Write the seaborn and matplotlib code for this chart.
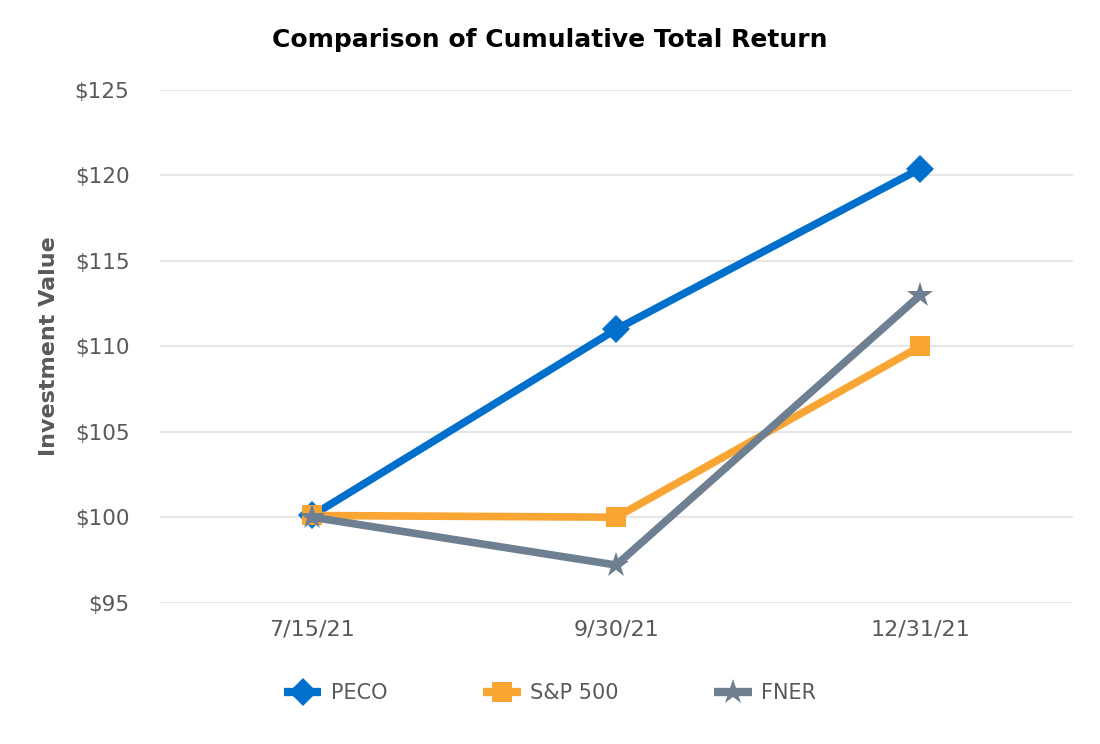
import pandas as pd
import matplotlib.pyplot as plt
import seaborn as sns

# chart data
dates = ['7/15/21', '9/30/21', '12/31/21']
peco = [100.1, 111.0, 120.4]
sp500 = [100.1, 100.0, 110.0]
fner = [100.0, 97.2, 113.0]

series = {'PECO': peco, 'S&P 500': sp500, 'FNER': fner}
colors = {'PECO': '#0070CC', 'S&P 500': '#F9A533', 'FNER': '#6E7F91'}
markers = {'PECO': 'D', 'S&P 500': 's', 'FNER': '*'}
sizes = {'PECO': 14, 'S&P 500': 14.5, 'FNER': 19}

rows = []
for name, vals in series.items():
    for d, v in zip(dates, vals):
        rows.append({'date': d, 'value': v, 'series': name})
df = pd.DataFrame(rows)

sns.set_theme(style="white")
plt.rcParams['font.family'] = ['DejaVu Sans']
text_color = '#595959'

fig, ax = plt.subplots(figsize=(11, 7.44), dpi=100)
fig.subplots_adjust(left=0.1455, right=0.975, top=0.879, bottom=0.19)

for name in series:
    sub = df[df['series'] == name]
    sns.lineplot(data=sub, x='date', y='value', ax=ax, color=colors[name],
                 linewidth=5.5, marker=markers[name], markersize=sizes[name],
                 markeredgewidth=0, label=name, sort=False)

ax.set_xlim(-0.5, 2.5)
ax.set_ylim(95, 125)
ax.set_yticks(range(95, 126, 5))
ax.set_yticklabels([f'${t}' for t in range(95, 126, 5)])
ax.grid(axis='y', color='#E6E6E6', linewidth=1.5)
ax.set_axisbelow(True)
for s in ax.spines.values():
    s.set_visible(False)
ax.tick_params(axis='y', length=0, labelsize=15.5, colors=text_color, pad=22)
ax.tick_params(axis='x', length=0, labelsize=16, colors=text_color, pad=12)

ax.set_xlabel('')
ax.set_ylabel('Investment Value', fontsize=16, fontweight='bold', color=text_color, labelpad=11)
fig.suptitle('Comparison of Cumulative Total Return', fontsize=18, fontweight='bold',
             color='black', x=0.5, y=1 - 40 / 744, va='center')

handles, labels = ax.get_legend_handles_labels()
ax.get_legend().remove()
leg = fig.legend(handles, labels, loc='center', bbox_to_anchor=(0.5, 1 - 693 / 744), ncol=3,
                 frameon=False, fontsize=15, handlelength=1.8, handletextpad=0.45,
                 columnspacing=4.6, labelcolor=text_color)
for h in leg.get_lines():
    h.set_solid_capstyle('butt')
    h.set_linewidth(6)

plt.savefig('out.png', dpi=100)
